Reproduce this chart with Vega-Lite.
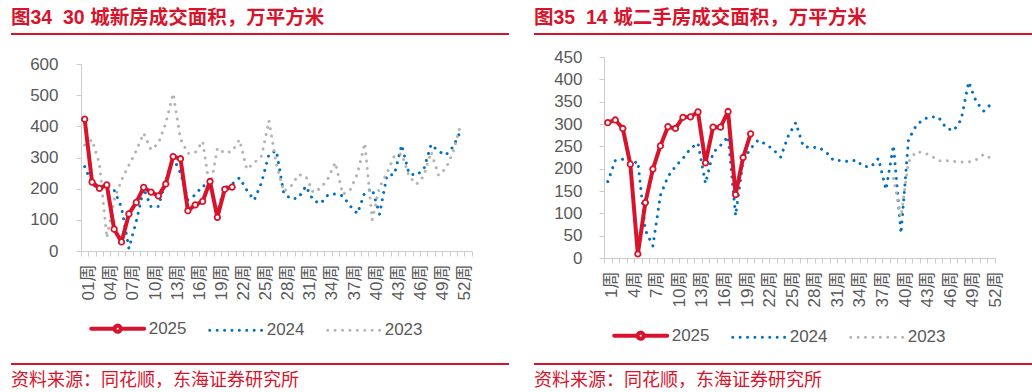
{
  "$schema": "https://vega.github.io/schema/vega-lite/v6.json",
  "background": "white",
  "padding": {"left": 2, "top": 7, "right": 0, "bottom": 0},
  "datasets": {
    "left": [
      {"week":1,"year":"2025","value":423},{"week":2,"year":"2025","value":221},{"week":3,"year":"2025","value":201},{"week":4,"year":"2025","value":212},{"week":5,"year":"2025","value":70},{"week":6,"year":"2025","value":29},{"week":7,"year":"2025","value":119},{"week":8,"year":"2025","value":156},{"week":9,"year":"2025","value":204},{"week":10,"year":"2025","value":189},{"week":11,"year":"2025","value":177},{"week":12,"year":"2025","value":215},{"week":13,"year":"2025","value":303},{"week":14,"year":"2025","value":296},{"week":15,"year":"2025","value":129},{"week":16,"year":"2025","value":148},{"week":17,"year":"2025","value":159},{"week":18,"year":"2025","value":223},{"week":19,"year":"2025","value":108},{"week":20,"year":"2025","value":198},{"week":21,"year":"2025","value":205},
      {"week":1,"year":"2024","value":271},{"week":2,"year":"2024","value":215},{"week":3,"year":"2024","value":198},{"week":4,"year":"2024","value":206},{"week":5,"year":"2024","value":195},{"week":6,"year":"2024","value":140},{"week":7,"year":"2024","value":8},{"week":8,"year":"2024","value":95},{"week":9,"year":"2024","value":200},{"week":10,"year":"2024","value":142},{"week":11,"year":"2024","value":143},{"week":12,"year":"2024","value":225},{"week":13,"year":"2024","value":300},{"week":14,"year":"2024","value":250},{"week":15,"year":"2024","value":164},{"week":16,"year":"2024","value":180},{"week":17,"year":"2024","value":210},{"week":18,"year":"2024","value":205},{"week":19,"year":"2024","value":126},{"week":20,"year":"2024","value":203},{"week":21,"year":"2024","value":215},{"week":22,"year":"2024","value":235},{"week":23,"year":"2024","value":195},{"week":24,"year":"2024","value":163},{"week":25,"year":"2024","value":220},{"week":26,"year":"2024","value":310},{"week":27,"year":"2024","value":322},{"week":28,"year":"2024","value":185},{"week":29,"year":"2024","value":167},{"week":30,"year":"2024","value":170},{"week":31,"year":"2024","value":208},{"week":32,"year":"2024","value":163},{"week":33,"year":"2024","value":152},{"week":34,"year":"2024","value":180},{"week":35,"year":"2024","value":183},{"week":36,"year":"2024","value":177},{"week":37,"year":"2024","value":145},{"week":38,"year":"2024","value":120},{"week":39,"year":"2024","value":188},{"week":40,"year":"2024","value":200},{"week":41,"year":"2024","value":118},{"week":42,"year":"2024","value":243},{"week":43,"year":"2024","value":245},{"week":44,"year":"2024","value":340},{"week":45,"year":"2024","value":248},{"week":46,"year":"2024","value":243},{"week":47,"year":"2024","value":262},{"week":48,"year":"2024","value":342},{"week":49,"year":"2024","value":320},{"week":50,"year":"2024","value":308},{"week":51,"year":"2024","value":335},{"week":52,"year":"2024","value":385},
      {"week":1,"year":"2023","value":340},{"week":2,"year":"2023","value":357},{"week":3,"year":"2023","value":280},{"week":4,"year":"2023","value":42},{"week":5,"year":"2023","value":165},{"week":6,"year":"2023","value":228},{"week":7,"year":"2023","value":275},{"week":8,"year":"2023","value":322},{"week":9,"year":"2023","value":378},{"week":10,"year":"2023","value":325},{"week":11,"year":"2023","value":345},{"week":12,"year":"2023","value":410},{"week":13,"year":"2023","value":505},{"week":14,"year":"2023","value":360},{"week":15,"year":"2023","value":313},{"week":16,"year":"2023","value":316},{"week":17,"year":"2023","value":352},{"week":18,"year":"2023","value":195},{"week":19,"year":"2023","value":330},{"week":20,"year":"2023","value":314},{"week":21,"year":"2023","value":320},{"week":22,"year":"2023","value":357},{"week":23,"year":"2023","value":262},{"week":24,"year":"2023","value":283},{"week":25,"year":"2023","value":305},{"week":26,"year":"2023","value":418},{"week":27,"year":"2023","value":278},{"week":28,"year":"2023","value":191},{"week":29,"year":"2023","value":208},{"week":30,"year":"2023","value":245},{"week":31,"year":"2023","value":240},{"week":32,"year":"2023","value":188},{"week":33,"year":"2023","value":201},{"week":34,"year":"2023","value":232},{"week":35,"year":"2023","value":284},{"week":36,"year":"2023","value":182},{"week":37,"year":"2023","value":195},{"week":38,"year":"2023","value":248},{"week":39,"year":"2023","value":346},{"week":40,"year":"2023","value":100},{"week":41,"year":"2023","value":205},{"week":42,"year":"2023","value":250},{"week":43,"year":"2023","value":305},{"week":44,"year":"2023","value":312},{"week":45,"year":"2023","value":240},{"week":46,"year":"2023","value":214},{"week":47,"year":"2023","value":240},{"week":48,"year":"2023","value":318},{"week":49,"year":"2023","value":243},{"week":50,"year":"2023","value":265},{"week":51,"year":"2023","value":318},{"week":52,"year":"2023","value":405}
    ],
    "right": [
      {"week":1,"year":"2025","value":303},{"week":2,"year":"2025","value":309},{"week":3,"year":"2025","value":290},{"week":4,"year":"2025","value":210},{"week":5,"year":"2025","value":9},{"week":6,"year":"2025","value":124},{"week":7,"year":"2025","value":199},{"week":8,"year":"2025","value":251},{"week":9,"year":"2025","value":294},{"week":10,"year":"2025","value":290},{"week":11,"year":"2025","value":315},{"week":12,"year":"2025","value":316},{"week":13,"year":"2025","value":327},{"week":14,"year":"2025","value":213},{"week":15,"year":"2025","value":293},{"week":16,"year":"2025","value":293},{"week":17,"year":"2025","value":328},{"week":18,"year":"2025","value":142},{"week":19,"year":"2025","value":225},{"week":20,"year":"2025","value":278},
      {"week":1,"year":"2024","value":171},{"week":2,"year":"2024","value":218},{"week":3,"year":"2024","value":221},{"week":4,"year":"2024","value":210},{"week":5,"year":"2024","value":216},{"week":6,"year":"2024","value":62},{"week":7,"year":"2024","value":27},{"week":8,"year":"2024","value":140},{"week":9,"year":"2024","value":182},{"week":10,"year":"2024","value":205},{"week":11,"year":"2024","value":223},{"week":12,"year":"2024","value":245},{"week":13,"year":"2024","value":257},{"week":14,"year":"2024","value":167},{"week":15,"year":"2024","value":236},{"week":16,"year":"2024","value":252},{"week":17,"year":"2024","value":272},{"week":18,"year":"2024","value":95},{"week":19,"year":"2024","value":218},{"week":20,"year":"2024","value":245},{"week":21,"year":"2024","value":264},{"week":22,"year":"2024","value":255},{"week":23,"year":"2024","value":243},{"week":24,"year":"2024","value":226},{"week":25,"year":"2024","value":273},{"week":26,"year":"2024","value":303},{"week":27,"year":"2024","value":250},{"week":28,"year":"2024","value":247},{"week":29,"year":"2024","value":248},{"week":30,"year":"2024","value":238},{"week":31,"year":"2024","value":219},{"week":32,"year":"2024","value":218},{"week":33,"year":"2024","value":216},{"week":34,"year":"2024","value":219},{"week":35,"year":"2024","value":205},{"week":36,"year":"2024","value":204},{"week":37,"year":"2024","value":223},{"week":38,"year":"2024","value":153},{"week":39,"year":"2024","value":252},{"week":40,"year":"2024","value":55},{"week":41,"year":"2024","value":265},{"week":42,"year":"2024","value":296},{"week":43,"year":"2024","value":311},{"week":44,"year":"2024","value":316},{"week":45,"year":"2024","value":315},{"week":46,"year":"2024","value":291},{"week":47,"year":"2024","value":285},{"week":48,"year":"2024","value":310},{"week":49,"year":"2024","value":394},{"week":50,"year":"2024","value":350},{"week":51,"year":"2024","value":329},{"week":52,"year":"2024","value":345},
      {"week":39,"year":"2023","value":178},{"week":40,"year":"2023","value":92},{"week":41,"year":"2023","value":215},{"week":42,"year":"2023","value":238},{"week":43,"year":"2023","value":236},{"week":44,"year":"2023","value":229},{"week":45,"year":"2023","value":218},{"week":46,"year":"2023","value":218},{"week":47,"year":"2023","value":216},{"week":48,"year":"2023","value":215},{"week":49,"year":"2023","value":215},{"week":50,"year":"2023","value":220},{"week":51,"year":"2023","value":232},{"week":52,"year":"2023","value":223}
    ]
  },
  "spacing": 16,
  "resolve": {"scale": {"color": "independent"}, "legend": {"color": "independent"}},
  "hconcat": [
    {
      "spacing": 18,
      "resolve": {"scale": {"color": "independent"}, "legend": {"color": "independent"}},
      "vconcat": [
        {
          "spacing": 16,
          "resolve": {"scale": {"color": "independent"}, "legend": {"color": "independent"}},
          "vconcat": [
            {
              "data": {"values": [{"t": ""}]},
              "mark": {"type": "text"},
              "encoding": {"text": {"field": "t"}},
              "width": 498, "height": 2,
              "view": {"fill": "#D7142B", "stroke": null},
              "title": {"text": "图34\u00a0\u00a030 城新房成交面积，万平方米", "anchor": "start", "frame": "group", "offset": 0, "fontSize": 19.5, "fontWeight": "bold", "color": "#D7142B", "font": "Liberation Sans, Noto Sans CJK SC"}
            },
            {
              "width": 498, "height": 187,
              "data": {"name": "left"},
              "encoding": {
                "x": {"field": "week", "type": "ordinal", "bandPosition": 0.5,
                  "scale": {"type": "band", "paddingInner": 0, "paddingOuter": 0, "range": [70, 460.7], "domain": [1,2,3,4,5,6,7,8,9,10,11,12,13,14,15,16,17,18,19,20,21,22,23,24,25,26,27,28,29,30,31,32,33,34,35,36,37,38,39,40,41,42,43,44,45,46,47,48,49,50,51,52,53]},
                  "axis": {"title": null, "labelAngle": -90, "labelExpr": "(datum.value - 1) % 3 == 0 ? (datum.value < 10 ? '0' : '') + datum.value + '周' : ''", "tickBand": "extent", "labelOverlap": false, "labelPadding": 8, "labelOffset": 4, "tickSize": 5}},
                "y": {"field": "value", "type": "quantitative", "scale": {"domain": [0, 600], "nice": false},
                  "axis": {"title": null, "values": [0,100,200,300,400,500,600], "labelOverlap": false, "offset": -70, "labelPadding": 18, "tickSize": 5}}
              },
              "layer": [
                {
                  "transform": [{"filter": "datum.year != '2025'"}],
                  "mark": {"type": "line", "strokeWidth": 3, "strokeDash": [0.01, 7.4], "strokeCap": "round"},
                  "encoding": {
                    "color": {"field": "year", "type": "nominal", "scale": {"domain": ["2025","2024","2023"], "range": ["#D7142B","#0070C0","#B4B4B4"]},
                      "legend": {"title": null, "orient": "none", "direction": "horizontal", "legendX": 96.2, "legendY": 254, "symbolSize": 300, "labelOffset": 20.5, "columnPadding": 16, "labelFontSize": 17, "labelColor": "#595959", "labelFont": "Liberation Sans",
                        "encode": {"symbols": {"update": {
                          "shape": {"signal": "(datum.value == '2025' ? 'M-3.06,0H-0.35M0.35,0H3.06M0.35,0A0.35,0.35,0,1,1,-0.35,0A0.35,0.35,0,1,1,0.35,0Z' : 'M-3,0H3')"},
                          "fill": {"signal": "(datum.value == '2025' ? '#ffffff' : 'transparent')"},
                          "strokeWidth": {"signal": "(datum.value == '2025' ? 4 : 3)"},
                          "strokeDash": {"signal": "(datum.value == '2025' ? [1, 0] : [0.01, 7.4])"},
                          "strokeCap": {"value": "round"}}}}}}
                  }
                },
                {
                  "transform": [{"filter": "datum.year == '2025'"}],
                  "mark": {"type": "line", "strokeWidth": 4, "strokeJoin": "round"},
                  "encoding": {"color": {"field": "year", "type": "nominal"}}
                },
                {
                  "transform": [{"filter": "datum.year == '2025'"}],
                  "mark": {"type": "point", "filled": true, "fill": "white", "stroke": "#D7142B", "strokeWidth": 1.8, "size": 30, "opacity": 1},
                  "encoding": {}
                }
              ]
            }
          ]
        },
        {
          "data": {"values": [{"t": ""}]},
          "mark": {"type": "text"},
          "encoding": {"text": {"field": "t"}},
          "width": 498, "height": 2,
          "view": {"fill": "#D7142B", "stroke": null},
          "title": {"text": "资料来源：同花顺，东海证券研究所", "orient": "bottom", "anchor": "start", "frame": "group", "offset": 3, "fontSize": 18, "fontWeight": "normal", "color": "#D7142B", "font": "Noto Sans CJK SC"}
        }
      ]
    },
    {
      "spacing": 11,
      "resolve": {"scale": {"color": "independent"}, "legend": {"color": "independent"}},
      "vconcat": [
        {
          "spacing": 9,
          "resolve": {"scale": {"color": "independent"}, "legend": {"color": "independent"}},
          "vconcat": [
            {
              "data": {"values": [{"t": ""}]},
              "mark": {"type": "text"},
              "encoding": {"text": {"field": "t"}},
              "width": 498, "height": 2,
              "view": {"fill": "#D7142B", "stroke": null},
              "title": {"text": "图35\u00a0\u00a014 城二手房成交面积，万平方米", "anchor": "start", "frame": "group", "offset": 0, "fontSize": 19.5, "fontWeight": "bold", "color": "#D7142B", "font": "Liberation Sans, Noto Sans CJK SC"}
            },
            {
              "width": 498, "height": 201,
              "data": {"name": "right"},
              "encoding": {
                "x": {"field": "week", "type": "ordinal", "bandPosition": 0.5,
                  "scale": {"type": "band", "paddingInner": 0, "paddingOuter": 0, "range": [70, 461], "domain": [1,2,3,4,5,6,7,8,9,10,11,12,13,14,15,16,17,18,19,20,21,22,23,24,25,26,27,28,29,30,31,32,33,34,35,36,37,38,39,40,41,42,43,44,45,46,47,48,49,50,51,52]},
                  "axis": {"title": null, "labelAngle": -90, "labelExpr": "(datum.value - 1) % 3 == 0 ? datum.value + '周' : ''", "tickBand": "extent", "labelOverlap": false, "labelPadding": 8, "labelOffset": 4, "tickSize": 5}},
                "y": {"field": "value", "type": "quantitative", "scale": {"domain": [0, 450], "nice": false},
                  "axis": {"title": null, "values": [0,50,100,150,200,250,300,350,400,450], "labelOverlap": false, "offset": -70, "labelPadding": 17, "tickSize": 5}}
              },
              "layer": [
                {
                  "transform": [{"filter": "datum.year != '2025'"}],
                  "mark": {"type": "line", "strokeWidth": 3, "strokeDash": [0.01, 7.4], "strokeCap": "round"},
                  "encoding": {
                    "color": {"field": "year", "type": "nominal", "scale": {"domain": ["2025","2024","2023"], "range": ["#D7142B","#0070C0","#B4B4B4"]},
                      "legend": {"title": null, "orient": "none", "direction": "horizontal", "legendX": 96.2, "legendY": 268, "symbolSize": 300, "labelOffset": 20.5, "columnPadding": 16, "labelFontSize": 17, "labelColor": "#595959", "labelFont": "Liberation Sans",
                        "encode": {"symbols": {"update": {
                          "shape": {"signal": "(datum.value == '2025' ? 'M-3.06,0H-0.35M0.35,0H3.06M0.35,0A0.35,0.35,0,1,1,-0.35,0A0.35,0.35,0,1,1,0.35,0Z' : 'M-3,0H3')"},
                          "fill": {"signal": "(datum.value == '2025' ? '#ffffff' : 'transparent')"},
                          "strokeWidth": {"signal": "(datum.value == '2025' ? 4 : 3)"},
                          "strokeDash": {"signal": "(datum.value == '2025' ? [1, 0] : [0.01, 7.4])"},
                          "strokeCap": {"value": "round"}}}}}}
                  }
                },
                {
                  "transform": [{"filter": "datum.year == '2025'"}],
                  "mark": {"type": "line", "strokeWidth": 4, "strokeJoin": "round"},
                  "encoding": {"color": {"field": "year", "type": "nominal"}}
                },
                {
                  "transform": [{"filter": "datum.year == '2025'"}],
                  "mark": {"type": "point", "filled": true, "fill": "white", "stroke": "#D7142B", "strokeWidth": 1.8, "size": 30, "opacity": 1},
                  "encoding": {}
                }
              ]
            }
          ]
        },
        {
          "data": {"values": [{"t": ""}]},
          "mark": {"type": "text"},
          "encoding": {"text": {"field": "t"}},
          "width": 498, "height": 2,
          "view": {"fill": "#D7142B", "stroke": null},
          "title": {"text": "资料来源：同花顺，东海证券研究所", "orient": "bottom", "anchor": "start", "frame": "group", "offset": 3, "fontSize": 18, "fontWeight": "normal", "color": "#D7142B", "font": "Noto Sans CJK SC"}
        }
      ]
    }
  ],
  "config": {
    "view": {"stroke": null},
    "axis": {"labelFont": "Liberation Sans, Noto Sans CJK SC", "labelFontSize": 17, "labelColor": "#595959", "domainColor": "#CCCCCC", "tickColor": "#CCCCCC", "grid": false}
  }
}
